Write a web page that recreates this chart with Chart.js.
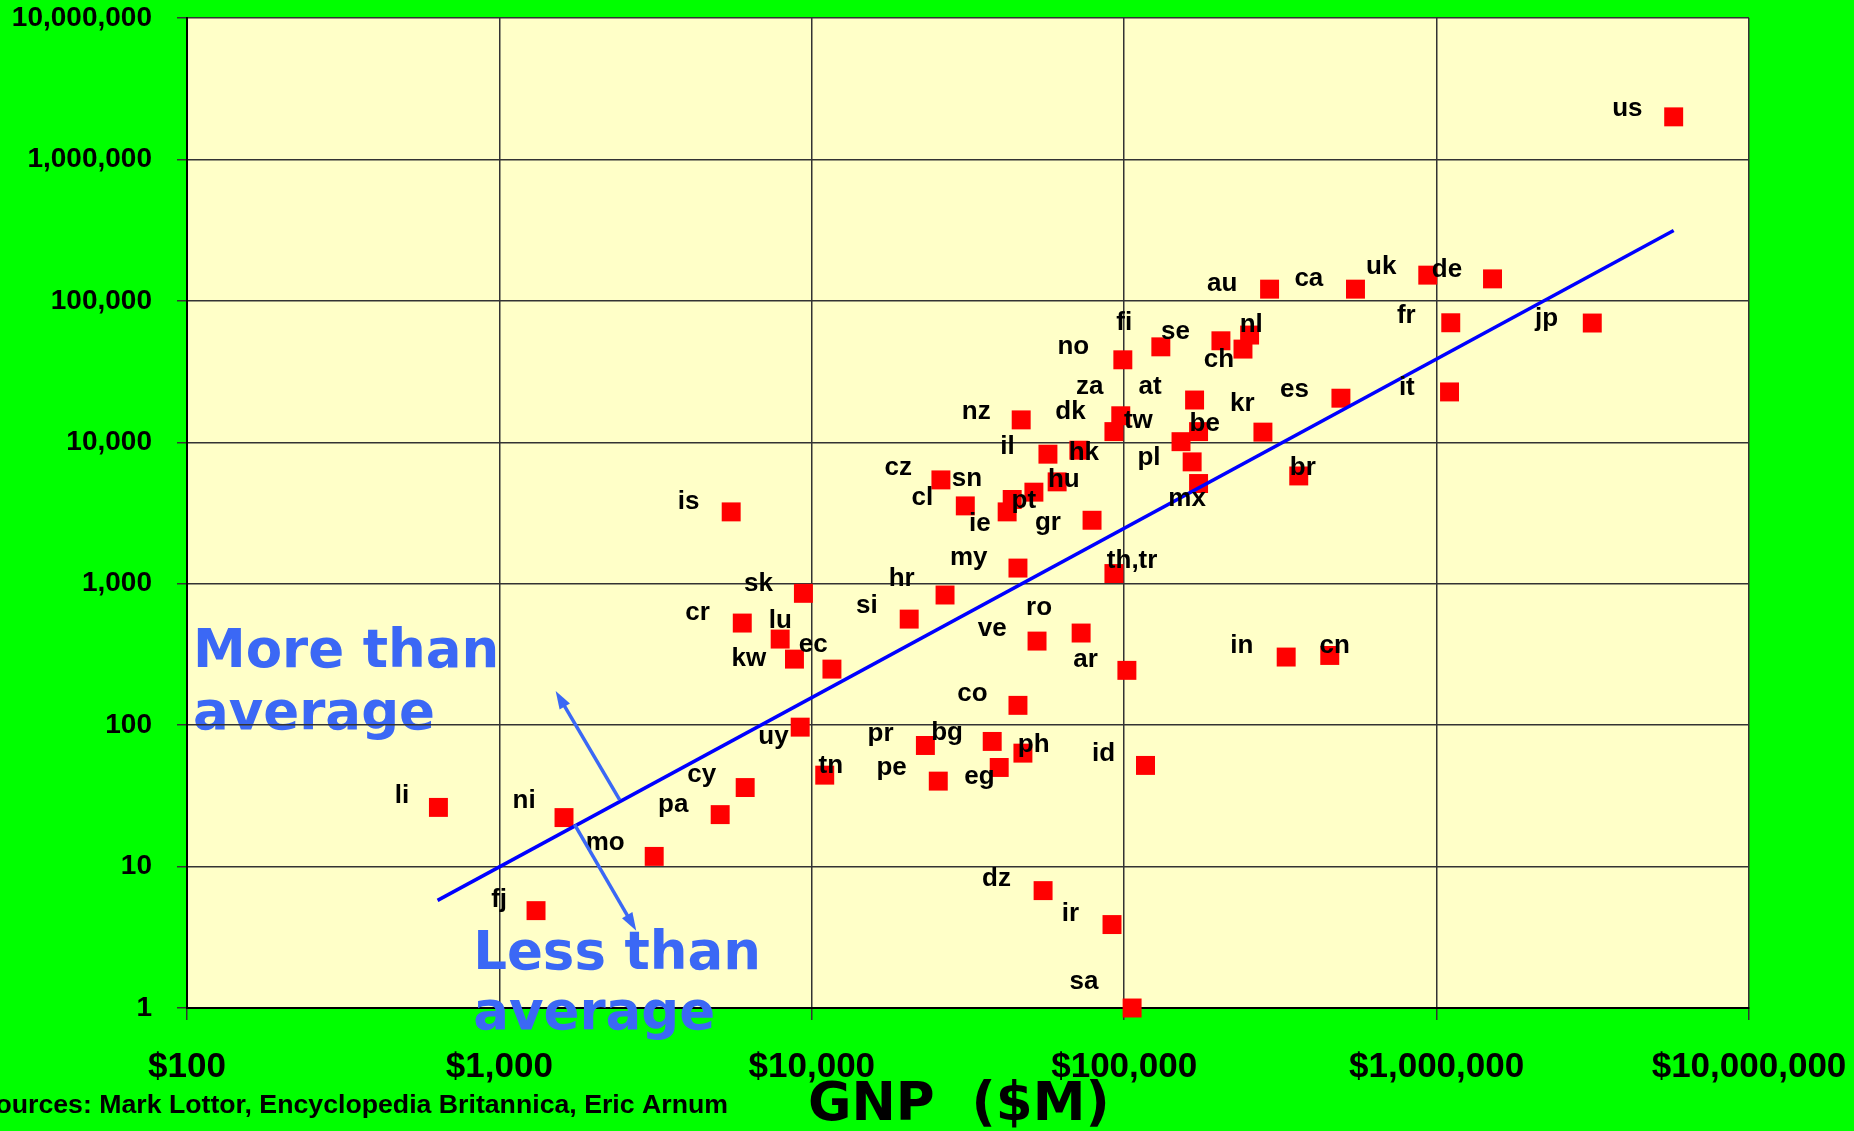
<!DOCTYPE html>
<html>
<head>
<meta charset="utf-8">
<title>Internet hosts vs GNP</title>
<script src="https://cdn.jsdelivr.net/npm/chart.js@4.4.0/dist/chart.umd.min.js"></script>
<style>
  html, body { margin: 0; padding: 0; background: #00ff00; overflow: hidden; }
  canvas { display: block; }
</style>
</head>
<body>
<canvas id="myChart" width="1854" height="1131"></canvas>
<script>
// Country codes, one red square each
const codes = ['us', 'au', 'ca', 'uk', 'de', 'fr', 'jp', 'it', 'fi', 'se', 'ch', 'nl', 'no',
    'at', 'za', 'tw', 'kr', 'es', 'be', 'dk', 'pl', 'mx', 'br', 'nz', 'il', 'hk', 'cz', 'hu',
    'pt', 'sn', 'ie', 'cl', 'gr', 'is', 'my', 'th,tr', 'sk', 'hr', 'si', 'cr', 'lu', 'kw', 'ec',
    'ro', 've', 'ar', 'co', 'uy', 'pr', 'bg', 'ph', 'eg', 'pe', 'tn', 'cy', 'pa', 'id', 'dz',
    'ir', 'sa', 'in', 'cn', 'li', 'ni', 'mo', 'fj'];

// GNP in $M (x) and number of hosts (y)
const gnp = [5740000, 292000, 550000, 937000, 1510000, 1110000, 3150000, 1100000, 99000, 131000,
    204000, 252000, 240000, 168000, 97500, 92700, 278000, 494000, 173000, 152000, 165000, 173000,
    362000, 46800, 57000, 71600, 25900, 61000, 51400, 43800, 42200, 31000, 78900, 5520, 45700,
    92700, 9400, 26700, 20500, 5990, 7920, 8800, 11600, 72800, 52600, 102000, 45700, 9180, 23100,
    37800, 47400, 39800, 25400, 11000, 6120, 5090, 117000, 55000, 91400, 106000, 330000, 455000,
    638, 1610, 3130, 1310];
const hosts = [2000000, 121000, 121000, 152000, 143000, 70000, 69700, 22700, 38300, 47300,
    52200, 57300, 45600, 19900, 15400, 11900, 11800, 20500, 11900, 10100, 7270, 5110,
    5780, 14400, 8240, 8790, 5420, 5250, 4440, 3940, 3220, 3550, 2810, 3220, 1290,
    1180, 855, 832, 562, 527, 406, 293, 249, 448, 393, 244, 138, 96.8, 71.8,
    76.7, 63.4, 50.2, 40.2, 44.3, 36.2, 23.3, 51.9, 6.76, 3.89, 1, 303, 311,
    26.2, 22.2, 11.8, 4.88];

// Where each code label sits, in the same units
const labelGnp = [4080000, 206000, 390000, 665000, 1080000, 800000, 2250000, 803000, 100000, 146000,
    201000, 255000, 68700, 121000, 77600, 111000, 239000, 351000, 181000, 67300, 120000, 159000,
    373000, 33600, 42300, 74300, 18900, 64100, 47700, 31400, 34500, 22600, 57000, 4030, 31800,
    106000, 6750, 19400, 15000, 4310, 7930, 6290, 10100, 53400, 37800, 75200, 32700, 7540, 16600,
    27100, 51300, 34400, 18000, 11500, 4440, 3600, 85900, 39000, 67300, 74300, 238000, 472000,
    488, 1200, 2180, 998];
const labelHosts = [2290000, 133000, 142000, 173000, 167000, 78000, 75200, 24400, 70000, 60400,
    38500, 67400, 47600, 24700, 24700, 14100, 18800, 23600, 13600, 16400, 7800, 4000,
    6630, 16400, 9270, 8410, 6630, 5390, 3850, 5540, 2630, 4070, 2690, 3790, 1530,
    1450, 991, 1090, 692, 624, 545, 295, 367, 673, 481, 290, 167, 82.3, 86.9,
    87.8, 72.7, 42.9, 50, 51.9, 44.6, 27.5, 62.8, 8.18, 4.67, 1.52, 362, 362,
    31.8, 29, 14.6, 5.84];

// Average line (ends)
const trendGnp = [634, 5740000];
const trendHosts = [5.77, 314000];

// Arrows pointing away from the average line: [from, to]
const upArrowGnp = [2427, 1514];
const upArrowHosts = [29.6, 174.6];
const downArrowGnp = [1741, 2742];
const downArrowHosts = [19.8, 3.52];

// Notes on each side of the line (left edge, baseline of each row)
const moreNote = ['More than', 'average'];
const moreNoteGnp = 104.5;
const moreNoteHosts = [256, 93.2];
const lessNote = ['Less than', 'average'];
const lessNoteGnp = 824;
const lessNoteHosts = [1.9, 0.714];

// Axis ticks
const xTicks = [100, 1000, 10000, 100000, 1000000, 10000000];
const xTickLabels = ['$100', '$1,000', '$10,000', '$100,000', '$1,000,000', '$10,000,000'];
const yTicks = [1, 10, 100, 1000, 10000, 100000, 1000000, 10000000];
const yTickLabels = ['1', '10', '100', '1,000', '10,000', '100,000', '1,000,000', '10,000,000'];

const xTitle = 'GNP  ($M)';
const sources = 'Sources: Mark Lottor, Encyclopedia Britannica, Eric Arnum';

const ARIAL = '"Liberation Sans", Arial, sans-serif';
const DEJAVU = '"DejaVu Sans", Verdana, sans-serif';
const NOTE_BLUE = '#3b68f5';

// Build point lists for the library
function toPoints(xs, ys) {
    return xs.map((x, i) => ({ x: x, y: ys[i] }));
}

function drawArrow(ctx, x1, y1, x2, y2) {
    let ang = Math.atan2(y2 - y1, x2 - x1);
    let c = Math.cos(ang), s = Math.sin(ang);
    ctx.beginPath();
    ctx.moveTo(x1, y1);
    ctx.lineTo(x2 - 10 * c, y2 - 10 * s);
    ctx.stroke();
    ctx.beginPath();
    ctx.moveTo(x2, y2);
    ctx.lineTo(x2 - 18 * c + 6 * s, y2 - 18 * s - 6 * c);
    ctx.lineTo(x2 - 18 * c - 6 * s, y2 - 18 * s + 6 * c);
    ctx.closePath();
    ctx.fill();
}

function drawNote(chart, rows, gx, hs) {
    const ctx = chart.ctx;
    const xs = chart.scales.x, ys = chart.scales.y;
    ctx.fillStyle = NOTE_BLUE;
    ctx.font = 'bold 53px ' + DEJAVU;
    ctx.textAlign = 'left';
    ctx.textBaseline = 'alphabetic';
    rows.forEach((row, i) => {
        ctx.fillText(row, xs.getPixelForValue(gx), ys.getPixelForValue(hs[i]));
    });
}

// Plot background, notes, code labels, arrows and titles
const decorations = {
    id: 'decorations',
    beforeDraw(chart) {
        const ctx = chart.ctx;
        const a = chart.chartArea;
        ctx.save();
        ctx.fillStyle = '#ffffc8';
        ctx.fillRect(a.left, a.top, a.right - a.left, a.bottom - a.top);
        drawNote(chart, moreNote, moreNoteGnp, moreNoteHosts);
        ctx.restore();
    },
    afterDatasetsDraw(chart) {
        const ctx = chart.ctx;
        const xs = chart.scales.x, ys = chart.scales.y;
        ctx.save();
        ctx.fillStyle = '#000';
        ctx.font = 'bold 26px ' + ARIAL;
        ctx.textAlign = 'center';
        ctx.textBaseline = 'middle';
        codes.forEach((code, i) => {
            ctx.fillText(code, xs.getPixelForValue(labelGnp[i]), ys.getPixelForValue(labelHosts[i]));
        });

        ctx.strokeStyle = NOTE_BLUE;
        ctx.fillStyle = NOTE_BLUE;
        ctx.lineWidth = 3.5;
        drawArrow(ctx, xs.getPixelForValue(upArrowGnp[0]), ys.getPixelForValue(upArrowHosts[0]),
            xs.getPixelForValue(upArrowGnp[1]), ys.getPixelForValue(upArrowHosts[1]));
        drawArrow(ctx, xs.getPixelForValue(downArrowGnp[0]), ys.getPixelForValue(downArrowHosts[0]),
            xs.getPixelForValue(downArrowGnp[1]), ys.getPixelForValue(downArrowHosts[1]));
        ctx.restore();
    },
    afterDraw(chart) {
        const ctx = chart.ctx;
        ctx.save();
        drawNote(chart, lessNote, lessNoteGnp, lessNoteHosts);

        ctx.fillStyle = '#000';
        ctx.textBaseline = 'alphabetic';
        ctx.font = 'bold 26.7px ' + ARIAL;
        ctx.textAlign = 'right';
        ctx.fillText(sources, 728, 1113);

        ctx.font = 'bold 53px ' + DEJAVU;
        ctx.textAlign = 'left';
        ctx.fillText(xTitle, 808, 1120);
        ctx.restore();
    }
};

// Initialize the chart
const ctx = document.getElementById('myChart').getContext('2d');
const chart = new Chart(ctx, {
    type: 'scatter',
    data: {
        datasets: [{
            type: 'line',
            data: toPoints(trendGnp, trendHosts),
            borderColor: '#0000ff',
            borderWidth: 3.5,
            pointRadius: 0,
            fill: false
        }, {
            data: toPoints(gnp, hosts),
            pointStyle: 'rect',
            pointRadius: 13.4,
            backgroundColor: '#ff0000',
            borderColor: '#ff0000',
            borderWidth: 0,
            clip: false
        }]
    },
    options: {
        responsive: false,
        animation: false,
        devicePixelRatio: 1,
        events: [],
        layout: { padding: { left: 0, right: 105, top: 18, bottom: 0 } },
        plugins: {
            legend: { display: false },
            tooltip: { enabled: false }
        },
        scales: {
            x: {
                type: 'logarithmic',
                min: 100,
                max: 10000000,
                afterBuildTicks: (scale) => { scale.ticks = xTicks.map(v => ({ value: v })); },
                afterFit: (scale) => {
                    // fixed axis box, labels may hang over the edges
                    scale.height = 123;
                    scale.paddingLeft = 0;
                    scale.paddingRight = 0;
                },
                ticks: {
                    callback: (v, i) => xTickLabels[i],
                    color: '#000',
                    font: { family: ARIAL, size: 35, weight: 'bold' },
                    padding: 26,
                    autoSkip: false,
                    maxRotation: 0
                },
                grid: { color: '#333', lineWidth: 1.5, tickLength: 12, tickColor: '#333' },
                border: { color: '#000', width: 2 }
            },
            y: {
                type: 'logarithmic',
                min: 1,
                max: 10000000,
                afterBuildTicks: (scale) => { scale.ticks = yTicks.map(v => ({ value: v })); },
                afterFit: (scale) => {
                    scale.width = 187;
                    scale.paddingTop = 0;
                    scale.paddingBottom = 0;
                },
                ticks: {
                    callback: (v, i) => yTickLabels[i],
                    color: '#000',
                    font: { family: ARIAL, size: 28, weight: 'bold' },
                    padding: 25,
                    autoSkip: false
                },
                grid: { color: '#333', lineWidth: 1.5, tickLength: 10, tickColor: '#333' },
                border: { color: '#000', width: 2 }
            }
        }
    },
    plugins: [decorations]
});
</script>
</body>
</html>
